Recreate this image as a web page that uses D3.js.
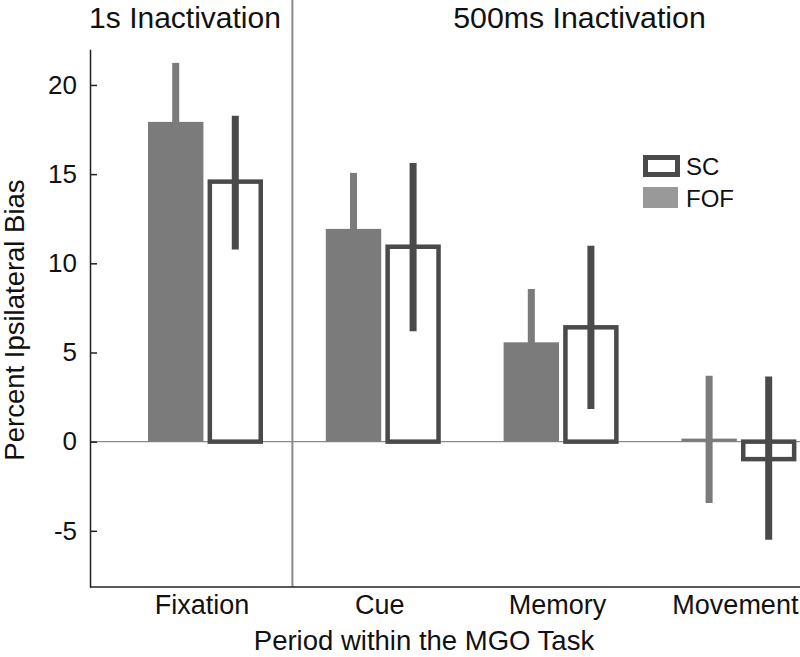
<!DOCTYPE html>
<html>
<head>
<meta charset="utf-8">
<script src="https://cdn.jsdelivr.net/npm/d3@7"></script>
<style>
  html, body { margin: 0; padding: 0; background: #fff; }
  svg { display: block; font-family: "Liberation Sans", Arial, sans-serif; }
</style>
</head>
<body>
<svg id="chart" width="800" height="657"></svg>
<script>
// ---- data ----
const categories = ["Fixation", "Cue", "Memory", "Movement"];
const series = ["FOF", "SC"];
const fofValues = [17.93, 11.93, 5.57, 0.17];
const fofErrLow = [14.6, 8.8, 2.6, -3.44];
const fofErrHigh = [21.24, 15.07, 8.56, 3.70];
const scValues = [14.58, 10.93, 6.41, -0.98];
const scErrLow = [10.77, 6.19, 1.83, -5.50];
const scErrHigh = [18.28, 15.63, 10.99, 3.66];
const yTicks = [-5, 0, 5, 10, 15, 20];
const groupTitles = ["1s Inactivation", "500ms Inactivation"];
const legendItems = ["SC", "FOF"];

const svg = d3.select("#chart");
const fofColor = "#7b7b7b";
const scColor = "#4a4a4a";

const y = d3.scaleLinear().domain([-8.15, 22]).range([587, 49.3]);
const x0 = d3.scaleBand().domain(categories).range([116.1, 827.3]).padding(0);
const x1 = d3.scaleBand().domain(series).range([-57, 58]).paddingInner(0.07);
const cx = c => x0(c) + x0.bandwidth() / 2;

// zero line
svg.append("line")
  .attr("x1", 90).attr("x2", 800)
  .attr("y1", y(0)).attr("y2", y(0))
  .attr("stroke", "#8a8a8a").attr("stroke-width", 1.2);

// divider between Fixation and Cue
const divX = (cx(categories[0]) + cx(categories[1])) / 2 - 1.5;
svg.append("line")
  .attr("x1", divX).attr("x2", divX)
  .attr("y1", 0).attr("y2", 587)
  .attr("stroke", "#8a8a8a").attr("stroke-width", 2);

// FOF bars
svg.selectAll("rect.fof").data(categories).join("rect")
  .attr("class", "fof")
  .attr("x", c => cx(c) + x1("FOF"))
  .attr("width", x1.bandwidth())
  .attr("y", (c, i) => y(Math.max(0, fofValues[i])))
  .attr("height", (c, i) => Math.abs(y(fofValues[i]) - y(0)))
  .attr("fill", fofColor);

// SC bars (outlined)
const sw = 4.5;
svg.selectAll("rect.sc").data(categories).join("rect")
  .attr("class", "sc")
  .attr("x", c => cx(c) + x1("SC") + sw / 2)
  .attr("width", x1.bandwidth() - sw)
  .attr("y", (c, i) => y(Math.max(0, scValues[i])))
  .attr("height", (c, i) => Math.abs(y(scValues[i]) - y(0)))
  .attr("fill", "#fff")
  .attr("stroke", scColor)
  .attr("stroke-width", sw);

// error bars
svg.selectAll("line.efof").data(categories).join("line")
  .attr("class", "efof")
  .attr("x1", c => cx(c) + x1("FOF") + x1.bandwidth() / 2)
  .attr("x2", c => cx(c) + x1("FOF") + x1.bandwidth() / 2)
  .attr("y1", (c, i) => y(fofErrLow[i]))
  .attr("y2", (c, i) => y(fofErrHigh[i]))
  .attr("stroke", fofColor).attr("stroke-width", 7);

svg.selectAll("line.esc").data(categories).join("line")
  .attr("class", "esc")
  .attr("x1", c => cx(c) + x1("SC") + x1.bandwidth() / 2)
  .attr("x2", c => cx(c) + x1("SC") + x1.bandwidth() / 2)
  .attr("y1", (c, i) => y(scErrLow[i]))
  .attr("y2", (c, i) => y(scErrHigh[i]))
  .attr("stroke", scColor).attr("stroke-width", 7);

// y axis
const yAxis = svg.append("g")
  .attr("transform", "translate(90,0)")
  .call(d3.axisLeft(y).tickValues(yTicks).tickFormat(d => String(d))
    .tickSizeInner(-7).tickSizeOuter(0).tickPadding(13));
yAxis.select(".domain").attr("stroke", "#222").attr("stroke-width", 1.5);
yAxis.selectAll(".tick line").attr("stroke", "#222").attr("stroke-width", 1.5);
yAxis.selectAll(".tick text")
  .attr("font-size", 26).attr("fill", "#111")
  .attr("font-family", "'Liberation Sans', Arial, sans-serif");

// x axis line
svg.append("line")
  .attr("x1", 90).attr("x2", 800)
  .attr("y1", 587).attr("y2", 587)
  .attr("stroke", "#222").attr("stroke-width", 1.5);

// category labels
svg.selectAll("text.cat").data(categories).join("text")
  .attr("class", "cat")
  .attr("x", c => cx(c) - 3)
  .attr("y", 614)
  .attr("text-anchor", "middle")
  .attr("font-size", 27)
  .attr("fill", "#111")
  .text(c => c);

// axis titles
svg.append("text")
  .attr("x", 424).attr("y", 650)
  .attr("text-anchor", "middle")
  .attr("font-size", 27.5).attr("fill", "#111")
  .text("Period within the MGO Task");

svg.append("text")
  .attr("transform", "translate(24,320) rotate(-90)")
  .attr("text-anchor", "middle")
  .attr("font-size", 27.5).attr("fill", "#111")
  .text("Percent Ipsilateral Bias");

// group titles
svg.append("text")
  .attr("x", 185).attr("y", 28)
  .attr("text-anchor", "middle")
  .attr("font-size", 30).attr("fill", "#111")
  .text(groupTitles[0]);
svg.append("text")
  .attr("x", 579.5).attr("y", 28)
  .attr("text-anchor", "middle")
  .attr("font-size", 30.3).attr("fill", "#111")
  .text(groupTitles[1]);

// legend
const lg = svg.append("g");
lg.append("rect")
  .attr("x", 645.5).attr("y", 157.5).attr("width", 32).attr("height", 17)
  .attr("fill", "#fff").attr("stroke", scColor).attr("stroke-width", 5);
lg.append("rect")
  .attr("x", 643).attr("y", 187).attr("width", 35).attr("height", 21)
  .attr("fill", "#999");
lg.selectAll("text").data(legendItems).join("text")
  .attr("x", 686)
  .attr("y", (d, i) => 175 + i * 31.5)
  .attr("font-size", 24).attr("fill", "#111")
  .text(d => d);
</script>
</body>
</html>
